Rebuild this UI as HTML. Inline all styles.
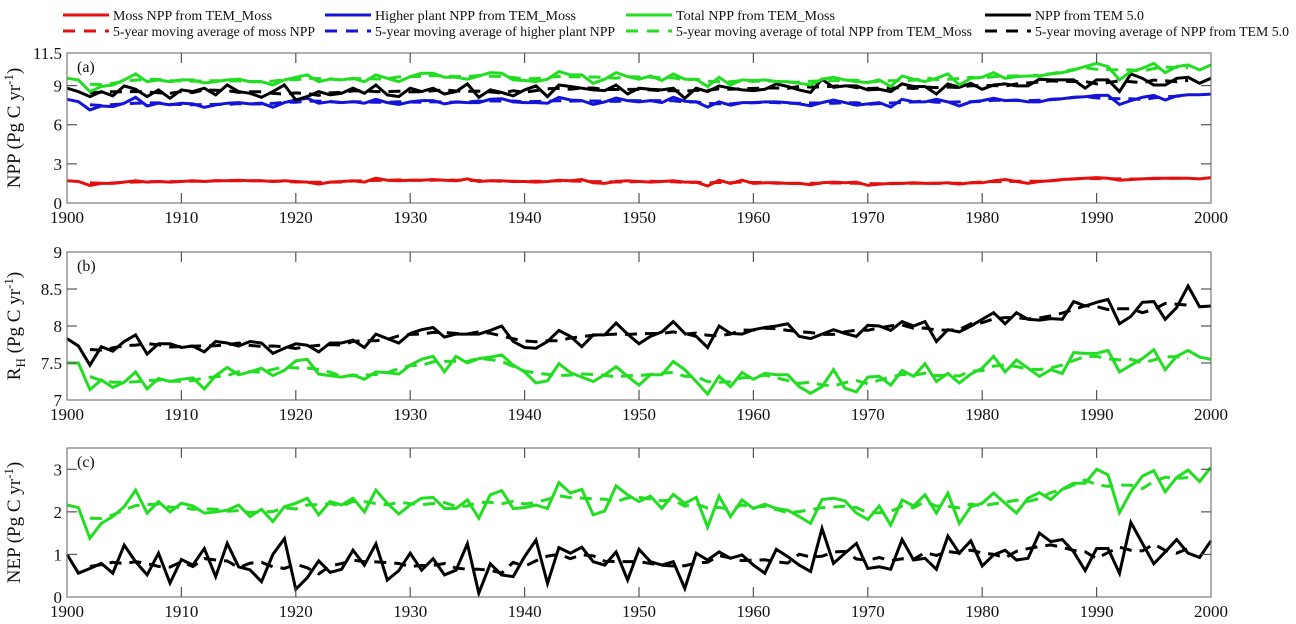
<!DOCTYPE html>
<html><head><meta charset="utf-8">
<style>
html,body{margin:0;padding:0;background:#fff;}
svg{display:block;font-family:"Liberation Serif",serif;}
</style></head>
<body>
<svg id="chart" width="1296" height="624" viewBox="0 0 1296 624"></svg>
<script>
// ---- data ----
const years = []; for (let y = 1900; y <= 2000; y++) years.push(y);
const mossNPP = [
1.7,1.65,1.35,1.5,1.5,1.6,1.7,1.6,1.65,1.6,
1.65,1.7,1.65,1.7,1.7,1.75,1.7,1.7,1.65,1.7,
1.65,1.6,1.45,1.6,1.65,1.7,1.6,1.9,1.75,1.7,
1.75,1.75,1.8,1.75,1.7,1.85,1.65,1.7,1.7,1.65,
1.65,1.6,1.65,1.75,1.7,1.8,1.55,1.5,1.65,1.7,
1.65,1.6,1.65,1.7,1.6,1.6,1.3,1.75,1.5,1.75,
1.5,1.55,1.55,1.5,1.5,1.4,1.55,1.6,1.55,1.6,
1.35,1.45,1.5,1.5,1.55,1.5,1.5,1.55,1.45,1.55,
1.55,1.7,1.8,1.65,1.5,1.65,1.7,1.8,1.85,1.9,
1.95,1.9,1.75,1.8,1.85,1.9,1.9,1.9,1.9,1.85,
1.95];
const higherNPP = [
7.95,7.77,7.14,7.44,7.39,7.65,8.1,7.44,7.65,7.52,
7.65,7.6,7.34,7.52,7.65,7.7,7.6,7.65,7.34,7.7,
7.9,8.03,7.65,7.77,7.7,7.77,7.65,7.95,7.7,7.55,
7.75,7.85,7.85,7.6,7.75,7.7,7.7,7.95,8.0,7.75,
7.7,7.7,7.65,8.1,7.9,7.85,7.55,7.75,8.05,7.85,
7.75,7.85,7.7,8.1,7.8,7.75,7.35,7.75,7.5,7.7,
7.7,7.75,7.75,7.7,7.6,7.45,7.7,7.9,7.7,7.5,
7.6,7.7,7.35,7.95,7.75,7.75,7.95,7.75,7.44,7.75,
7.85,8.03,7.85,7.9,7.75,7.75,7.95,8.0,8.1,8.15,
8.25,8.25,7.55,7.85,8.1,8.25,7.9,8.2,8.3,8.3,
8.35];
const totalNPP = [
9.56,9.44,8.54,8.93,9.05,9.44,9.9,9.3,9.44,9.3,
9.44,9.44,9.2,9.3,9.44,9.5,9.3,9.3,9.05,9.44,
9.64,9.82,9.3,9.5,9.44,9.56,9.3,9.82,9.56,9.31,
9.69,9.95,9.95,9.64,9.64,9.49,9.74,10.0,9.95,9.44,
9.39,9.31,9.49,10.08,9.82,9.82,9.18,9.49,10.0,9.69,
9.49,9.74,9.39,9.9,9.49,9.49,8.93,9.64,9.05,9.44,
9.39,9.44,9.31,9.31,9.18,9.05,9.49,9.64,9.44,9.31,
9.23,9.44,8.93,9.74,9.49,9.31,9.56,9.9,9.05,9.56,
9.64,10.0,9.56,9.69,9.74,9.74,9.9,10.0,10.2,10.46,
10.7,10.46,9.44,10.08,10.33,10.7,10.0,10.46,10.59,10.2,
10.59];
const tem5NPP = [
8.8,8.54,8.16,8.54,8.21,8.98,8.72,8.16,8.67,8.03,
8.67,8.54,8.8,8.29,9.05,8.54,8.41,8.1,8.54,9.05,
7.9,8.16,8.54,8.29,8.41,8.8,8.41,9.05,8.29,8.16,
8.8,8.54,8.8,8.36,8.54,9.13,8.1,8.67,8.47,8.21,
8.67,8.98,8.16,9.05,8.93,8.8,8.67,8.62,9.05,8.36,
8.8,8.72,8.67,8.8,8.03,8.8,8.54,8.98,8.8,8.67,
8.62,8.72,9.13,8.93,8.67,8.47,9.49,8.87,8.98,8.98,
8.67,8.72,8.54,9.13,8.93,8.93,8.36,9.13,8.87,9.18,
8.72,9.05,9.13,8.98,8.98,9.49,9.44,9.44,9.44,8.8,
9.44,9.44,8.54,9.9,9.56,9.05,9.05,9.56,9.64,9.18,
9.56];
const rhMoss = [
7.5,7.5,7.14,7.27,7.17,7.24,7.38,7.15,7.29,7.25,
7.28,7.3,7.15,7.33,7.44,7.34,7.38,7.43,7.33,7.4,
7.53,7.55,7.35,7.33,7.31,7.34,7.28,7.38,7.37,7.35,
7.47,7.55,7.59,7.38,7.59,7.5,7.56,7.58,7.61,7.47,
7.38,7.23,7.26,7.49,7.37,7.31,7.25,7.34,7.45,7.32,
7.2,7.34,7.34,7.52,7.41,7.25,7.08,7.32,7.18,7.37,
7.28,7.36,7.34,7.34,7.18,7.09,7.18,7.41,7.16,7.11,
7.31,7.32,7.2,7.4,7.32,7.49,7.25,7.36,7.23,7.35,
7.43,7.59,7.38,7.54,7.43,7.32,7.41,7.36,7.64,7.63,
7.63,7.67,7.38,7.47,7.56,7.68,7.41,7.59,7.67,7.58,
7.55];
const rhTem5 = [
7.83,7.73,7.47,7.72,7.66,7.79,7.88,7.62,7.76,7.76,
7.71,7.73,7.65,7.79,7.77,7.73,7.79,7.77,7.63,7.7,
7.76,7.74,7.65,7.77,7.77,7.81,7.71,7.89,7.83,7.77,
7.9,7.95,7.98,7.85,7.89,7.89,7.89,7.94,8.0,7.79,
7.71,7.7,7.79,7.94,7.86,7.72,7.88,7.88,8.04,7.89,
7.76,7.86,7.92,8.06,7.9,7.86,7.71,8.0,7.9,7.89,
7.95,7.98,8.0,8.03,7.86,7.83,7.89,7.95,7.9,7.86,
8.01,8.0,7.94,8.06,8.0,8.06,7.79,7.95,7.92,8.0,
8.09,8.18,8.03,8.18,8.09,8.08,8.1,8.09,8.33,8.27,
8.32,8.36,8.03,8.13,8.32,8.33,8.09,8.25,8.54,8.26,
8.27];
const nepMoss = [
2.16,2.1,1.38,1.73,1.89,2.12,2.51,1.97,2.24,2.0,
2.2,2.14,1.97,2.0,2.04,2.16,1.89,2.06,1.77,2.12,
2.2,2.32,1.93,2.24,2.16,2.32,2.0,2.51,2.2,1.95,
2.16,2.32,2.34,2.08,2.08,2.28,1.85,2.4,2.5,2.08,
2.1,2.16,2.08,2.69,2.44,2.53,1.93,2.02,2.61,2.4,
2.24,2.37,2.08,2.41,2.2,2.34,1.64,2.37,1.89,2.28,
2.08,2.18,2.08,2.04,1.89,1.73,2.29,2.32,2.26,1.97,
1.82,2.14,1.69,2.28,2.14,2.4,1.97,2.44,1.73,2.12,
2.2,2.44,2.2,1.97,2.32,2.45,2.29,2.53,2.67,2.67,
3.0,2.87,1.98,2.47,2.84,2.97,2.47,2.81,2.98,2.71,
3.05];
const nepTem5 = [
1.0,0.56,0.67,0.79,0.56,1.22,0.83,0.52,1.03,0.33,
0.88,0.75,1.14,0.48,1.26,0.71,0.64,0.36,1.0,1.37,
0.18,0.45,0.85,0.58,0.65,1.1,0.75,1.25,0.4,0.62,
1.03,0.63,0.9,0.52,0.63,1.25,0.09,0.78,0.52,0.48,
0.95,1.34,0.32,1.16,1.03,1.17,0.83,0.75,1.06,0.4,
1.12,0.83,0.75,0.83,0.2,1.03,0.87,1.06,0.91,0.99,
0.75,0.56,1.12,0.95,0.75,0.6,1.61,0.79,1.03,1.26,
0.67,0.71,0.65,1.35,0.87,0.91,0.65,1.43,1.03,1.32,
0.73,0.99,1.1,0.87,0.91,1.5,1.3,1.35,1.06,0.62,
1.14,1.14,0.56,1.75,1.26,0.78,1.06,1.35,1.03,0.93,
1.32];
const xTicks = [1900,1910,1920,1930,1940,1950,1960,1970,1980,1990,2000];
const ticksA = [0,3,6,9,11.5];
const ticksB = [7,7.5,8,8.5,9];
const ticksC = [0,1,2,3];

// ---- helpers ----
const NS = "http://www.w3.org/2000/svg";
const svg = document.getElementById('chart');
function el(tag, attrs, parent) {
  const e = document.createElementNS(NS, tag);
  for (const k in attrs) e.setAttribute(k, attrs[k]);
  (parent || svg).appendChild(e);
  return e;
}
const X0 = 67, X1 = 1211;
function xs(year) { return X0 + (year - 1900) / 100 * (X1 - X0); }
function movingAvg(arr) {
  const out = [];
  for (let i = 2; i < arr.length - 2; i++) {
    let s = 0; for (let j = -2; j <= 2; j++) s += arr[i + j];
    out.push([years[i], s / 5]);
  }
  return out;
}
const RED = '#e41010', BLUE = '#1414d8', GREEN = '#22dd22', BLACK = '#000';

function panel(cfg) {
  const g = el('g', {});
  
  
  const ys = v => cfg.bottom - (v - cfg.min) / (cfg.max - cfg.min) * (cfg.bottom - cfg.top);
  cfg.series.forEach(s => {
    const solid = s.data.map((v, i) => xs(years[i]).toFixed(1) + ',' + ys(v).toFixed(1)).join(' ');
    const p = el('polyline', {points: solid, fill: 'none', stroke: s.color, 'stroke-width': 3, 'stroke-linejoin': 'miter'}, g);
    
    
    const ma = movingAvg(s.data).map(d => xs(d[0]).toFixed(1) + ',' + ys(d[1]).toFixed(1)).join(' ');
    const q = el('polyline', {points: ma, fill: 'none', stroke: s.color, 'stroke-width': 3, 'stroke-dasharray': '12,8'}, g);
    
    
  });
  const fr = el('rect', {x: X0, y: cfg.top, width: X1 - X0, height: cfg.bottom - cfg.top, fill: 'none', stroke: '#7a7a7a', 'stroke-width': 1.2}, g);
  
  
  xTicks.forEach(t => {
    const x = xs(t);
    if (t !== 1900 && t !== 2000) {
      el('line', {x1: x, x2: x, y1: cfg.top, y2: cfg.top + 10, stroke: '#555', 'stroke-width': 1.2}, g);
      el('line', {x1: x, x2: x, y1: cfg.bottom, y2: cfg.bottom - 10, stroke: '#555', 'stroke-width': 1.2}, g);
    }
    const tx = el('text', {x: x, y: cfg.bottom + 20, 'font-size': 17, 'text-anchor': 'middle', fill: '#111'}, g);
    tx.textContent = t;
    
    
  });
  cfg.ticks.forEach(t => {
    const y = ys(t);
    if (t !== cfg.min && t !== cfg.max) {
      el('line', {x1: X0, x2: X0 + 10, y1: y, y2: y, stroke: '#555', 'stroke-width': 1.2}, g);
      el('line', {x1: X1, x2: X1 - 10, y1: y, y2: y, stroke: '#555', 'stroke-width': 1.2}, g);
    }
    const tx = el('text', {x: X0 - 5, y: y + 6, 'font-size': 17, 'text-anchor': 'end', fill: '#111'}, g);
    tx.textContent = t;
    
    
  });
  const pl = el('text', {x: 77, y: cfg.top + 19, 'font-size': 16, fill: '#111'}, g);
  pl.textContent = cfg.label;
  
  
  const cy = (cfg.top + cfg.bottom) / 2;
  const yt = el('text', {x: 0, y: 0, 'font-size': 19, 'text-anchor': 'middle', fill: '#111', transform: 'translate(20,' + cy + ') rotate(-90)'}, g);
  yt.innerHTML = cfg.title;
  
  
}

panel({name: 'panel-a-npp', label: '(a)', top: 53, bottom: 203, min: 0, max: 11.5, ticks: ticksA,
  title: 'NPP (Pg C yr<tspan dy="-7" font-size="13">-1</tspan><tspan dy="7">)</tspan>',
  series: [
    {name: 'moss-npp', color: RED, data: mossNPP},
    {name: 'higher-plant-npp', color: BLUE, data: higherNPP},
    {name: 'tem5-npp', color: BLACK, data: tem5NPP},
    {name: 'total-npp', color: GREEN, data: totalNPP}
  ]});
panel({name: 'panel-b-rh', label: '(b)', top: 252, bottom: 400, min: 7, max: 9, ticks: ticksB,
  title: 'R<tspan dy="5" font-size="13">H</tspan><tspan dy="-5"> (Pg C yr</tspan><tspan dy="-7" font-size="13">-1</tspan><tspan dy="7">)</tspan>',
  series: [
    {name: 'rh-tem5', color: BLACK, data: rhTem5},
    {name: 'rh-tem-moss', color: GREEN, data: rhMoss}
  ]});
panel({name: 'panel-c-nep', label: '(c)', top: 448, bottom: 597, min: 0, max: 3.5, ticks: ticksC,
  title: 'NEP (Pg C yr<tspan dy="-7" font-size="13">-1</tspan><tspan dy="7">)</tspan>',
  series: [
    {name: 'nep-tem5', color: BLACK, data: nepTem5},
    {name: 'nep-tem-moss', color: GREEN, data: nepMoss}
  ]});

const legItems = [
  {x: 63, row: 0, color: RED, dash: false, text: 'Moss NPP from TEM_Moss', w: 159, name: 'legend-moss-npp'},
  {x: 325, row: 0, color: BLUE, dash: false, text: 'Higher plant NPP from TEM_Moss', w: 201, name: 'legend-higher-plant-npp'},
  {x: 626, row: 0, color: GREEN, dash: false, text: 'Total NPP from TEM_Moss', w: 159, name: 'legend-total-npp'},
  {x: 985, row: 0, color: BLACK, dash: false, text: 'NPP from TEM 5.0', w: 109, name: 'legend-tem5-npp'},
  {x: 63, row: 1, color: RED, dash: true, text: '5-year moving average of moss NPP', w: 202, name: 'legend-moss-ma'},
  {x: 325, row: 1, color: BLUE, dash: true, text: '5-year moving average of higher plant NPP', w: 240, name: 'legend-higher-plant-ma'},
  {x: 626, row: 1, color: GREEN, dash: true, text: '5-year moving average of total NPP from TEM_Moss', w: 296, name: 'legend-total-ma'},
  {x: 985, row: 1, color: BLACK, dash: true, text: '5-year moving average of NPP from TEM 5.0', w: 254, name: 'legend-tem5-ma'}
];
legItems.forEach(it => {
  const g = el('g', {});
  
  
  const y = it.row === 0 ? 15 : 31;
  const a = {x1: it.x, x2: it.x + 46, y1: y, y2: y, stroke: it.color, 'stroke-width': 3};
  if (it.dash) a['stroke-dasharray'] = '12,9';
  el('line', a, g);
  const t = el('text', {x: it.x + 50, y: y + 5, 'font-size': 14, fill: '#111', textLength: it.w, lengthAdjust: 'spacingAndGlyphs'}, g);
  t.textContent = it.text;
});
</script>
</body></html>
